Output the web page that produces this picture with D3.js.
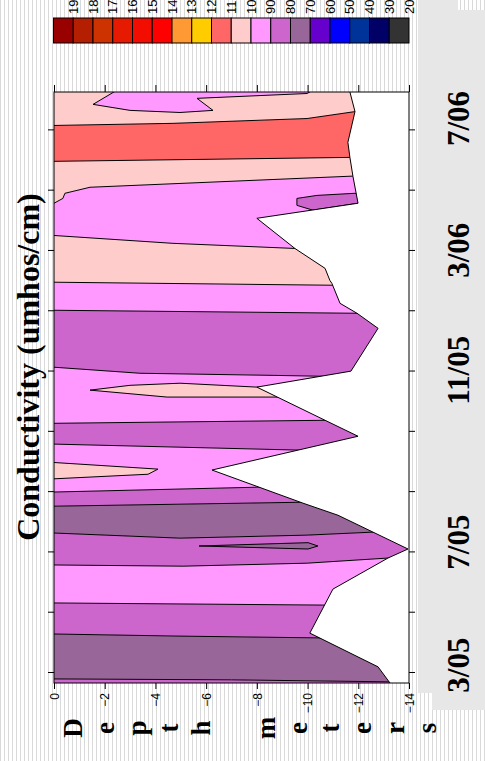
<!DOCTYPE html>
<html><head><meta charset="utf-8">
<script src="https://cdn.jsdelivr.net/npm/d3@7"></script>
<style>body{margin:0;background:#fff}svg{display:block}</style>
</head><body><svg id="c" width="485" height="761"></svg>
<script>
// ---------------- data ----------------
const legendLevels = [1900,1800,1700,1600,1500,1400,1300,1200,1100,1000,900,800,700,600,500,400,300,200];
const legendColors = ["#990000","#b31f00","#cc3300","#e61a00","#f20d00","#ff0000","#ff9933","#ffcc00","#ff6666","#ffcccc","#ff99ff","#cc66cc","#996699","#6600cc","#0000ff","#003399","#000066","#333333"];
const depthTicks = [0,-2,-4,-6,-8,-10,-12,-14];
const monthTicks = [2,4,6,8,10,12,14,16,18,20];           // months since Jan 2005
const dateLabels = ["3/05","7/05","11/05","3/06","7/06"];
const dateLabelMonths = [2.23,6.31,12.01,15.99,20.36];
const timeDomain = [1.635,21.24];
const depthDomain = [0,-14];
// deepest sampled depth along time  [depth, month]
const maxDepth = [[-11.67,21.24],[-11.87,20.59],[-11.59,19.57],[-11.67,19.07],[-11.79,18.44],[-11.99,17.55],[-8.00,17.05],[-9.50,16.05],[-10.69,15.39],[-10.88,14.99],[-10.96,14.89],[-11.28,14.23],[-11.95,13.90],[-12.78,13.40],[-11.71,11.98],[-8.00,11.45],[-10.69,10.35],[-11.99,9.82],[-6.23,8.70],[-9.82,7.60],[-11.20,7.20],[-13.96,6.08],[-13.17,5.78],[-11.00,4.75],[-10.09,3.29],[-12.78,2.17],[-13.25,1.635]];
// contour boundaries between bands, bottom to top  [depth, month]
const boundaries = [
  [[0,1.77],[-7,1.74],[-14.5,1.66]],
  [[0,3.26],[-4.97,3.19],[-10.57,3.13],[-14.5,3.09]],
  [[0,4.29],[-10.6,4.22],[-14.5,4.20]],
  [[0,5.55],[-5.09,5.51],[-9.98,5.61],[-13.17,5.78],[-14.5,5.84]],
  [[0,6.61],[-4.97,6.44],[-9.98,6.54],[-12.58,6.64],[-14.5,6.71]],
  [[0,7.50],[-9.70,7.63],[-14.5,7.70]],
  [[0,7.97],[-8.0,8.13],[-14.5,8.40]],
  [[0,9.56],[-9.70,9.36],[-14.5,9.26]],
  [[0,10.25],[-10.69,10.35],[-14.5,10.39]],
  [[0,12.11],[-3.39,11.91],[-8.64,11.84],[-10.61,11.81],[-14.5,11.78]],
  [[0,14.00],[-11.95,13.90],[-14.5,13.86]],
  [[0,14.93],[-10.96,14.83],[-14.5,14.79]],
  [[0,16.48],[-4.69,16.22],[-9.50,16.05],[-14.5,15.92]],
  [[0,17.55],[-0.35,17.71],[-0.43,17.88],[-1.42,18.08],[-11.79,18.45],[-14.5,18.58]],
  [[0,18.94],[-11.67,19.07],[-14.5,19.10]],
  [[0,20.13],[-4.69,20.20],[-9.98,20.36],[-11.87,20.59],[-14.5,20.83]]
];
// conductivity level of each band, bottom to top
const bandLevels = [800,700,800,900,800,700,800,900,800,900,800,900,1000,900,1000,1100,1000];
const islandLevels = [700,1000,1000,800,900];
const islandShapes = [
  [[-5.72,6.18],[-10.02,6.29],[-10.41,6.18],[-10.02,6.08]],
  [[0.2,8.96],[-4.10,8.73],[-3.71,8.56],[0.2,8.40]],
  [[-1.42,11.35],[-3.00,11.51],[-4.97,11.58],[-8.00,11.45],[-9.0,11.45],[-8.85,11.12],[-4.46,11.12]],
  [[-9.58,17.71],[-10.37,17.81],[-11.87,17.88],[-12.3,17.7],[-11.99,17.55],[-10.21,17.32],[-9.58,17.48]],
  [[-2.48,21.3],[-1.54,20.83],[-3.00,20.63],[-4.97,20.56],[-6.27,20.63],[-5.64,21.03],[-9.98,21.19],[-10.21,21.3]]
];

// ---------------- drawing ----------------
const W=485,H=761;
const plot={left:54,right:409,top:92,bottom:683};
const x=d3.scaleLinear().domain(depthDomain).range([plot.left,plot.right]);
const y=d3.scaleLinear().domain(timeDomain).range([plot.bottom,plot.top]);
const color=l=>legendColors[legendLevels.indexOf(l)];
const line=d3.line().x(p=>x(p[0])).y(p=>y(p[1]));
const sans="'Liberation Sans', Arial, sans-serif";
const serif="'Liberation Serif', 'Times New Roman', serif";

const svg=d3.select("#c");
const defs=svg.append("defs");
const pat=defs.append("pattern").attr("id","stripes").attr("patternUnits","userSpaceOnUse").attr("width",4).attr("height",10);
pat.append("rect").attr("width",4).attr("height",10).attr("fill","#fff");
pat.append("rect").attr("width",1).attr("height",10).attr("fill","#d9d9d9");
svg.append("rect").attr("width",W).attr("height",H).attr("fill","url(#stripes)");

// gray panel at right
svg.append("path").attr("d","M418,0H458V10H485V710H432V693H418Z").attr("fill","#e7e7e7");

// legend
const lx=d3.scaleBand().domain(legendLevels).range([53.5,409]);
svg.append("g").selectAll("rect").data(legendLevels).join("rect")
  .attr("x",d=>lx(d)).attr("y",18).attr("width",lx.bandwidth()).attr("height",25)
  .attr("fill",d=>color(d)).attr("stroke","#000").attr("stroke-width",1);
svg.append("g").selectAll("text").data(legendLevels).join("text")
  .attr("transform",d=>`translate(${lx(d)+lx.bandwidth()},14) rotate(-90)`)
  .attr("dy","0.35em").style("font",`13px ${sans}`).attr("fill","#000").text(d=>d);

// plot
svg.append("rect").attr("x",plot.left).attr("y",plot.top).attr("width",plot.right-plot.left).attr("height",plot.bottom-plot.top).attr("fill","#fff");
const clipPts=[[0,timeDomain[0]],...maxDepth.slice().reverse(),[0,timeDomain[1]]];
defs.append("clipPath").attr("id","dataClip").append("path").attr("d",line(clipPts)+"Z");
const g=svg.append("g").attr("clip-path","url(#dataClip)");
const bandPolys=bandLevels.map((lev,i)=>{
  const lower=i===0?[[0.5,timeDomain[0]-0.2],[-14.5,timeDomain[0]-0.2]]:boundaries[i-1];
  const upper=i===bandLevels.length-1?[[0.5,timeDomain[1]+0.2],[-14.5,timeDomain[1]+0.2]]:boundaries[i];
  return {lev,pts:[...lower,...upper.slice().reverse()]};
});
g.selectAll("path.band").data(bandPolys).join("path").attr("class","band")
  .attr("d",d=>line(d.pts)+"Z").attr("fill",d=>color(d.lev)).attr("stroke","none");
g.selectAll("path.isl").data(islandShapes).join("path").attr("class","isl")
  .attr("d",d=>line(d)+"Z").attr("fill",(d,i)=>color(islandLevels[i])).attr("stroke","#000").attr("stroke-width",1);
g.selectAll("path.bd").data(boundaries).join("path").attr("class","bd")
  .attr("d",d=>line(d)).attr("fill","none").attr("stroke","#000").attr("stroke-width",1);
svg.append("path").attr("d",line(maxDepth)).attr("fill","none").attr("stroke","#000").attr("stroke-width",1);

// axes
const axB=svg.append("g").attr("transform",`translate(0,${plot.bottom})`)
  .call(d3.axisBottom(x).tickValues(depthTicks).tickSize(6).tickSizeOuter(0));
axB.select(".domain").remove();
axB.selectAll("text").attr("x",-10).attr("y",0).attr("dy","0.35em").attr("transform","rotate(-90)")
  .attr("text-anchor","end").style("font",`12px ${sans}`);
const axT=svg.append("g").attr("transform",`translate(0,${plot.top})`)
  .call(d3.axisTop(x).tickValues(depthTicks).tickSize(7).tickFormat(""));
axT.select(".domain").remove();
const axL=svg.append("g").attr("transform",`translate(${plot.left},0)`)
  .call(d3.axisLeft(y).tickValues(monthTicks).tickSize(6).tickFormat(""));
axL.select(".domain").remove();
const axR=svg.append("g").attr("transform",`translate(${plot.right},0)`)
  .call(d3.axisRight(y).tickValues(monthTicks).tickSize(6).tickFormat(""));
axR.select(".domain").remove();
svg.selectAll(".tick line").attr("stroke","#000");
svg.append("rect").attr("x",plot.left).attr("y",plot.top).attr("width",plot.right-plot.left).attr("height",plot.bottom-plot.top)
  .attr("fill","none").attr("stroke","#000").attr("stroke-width",1);

// date labels
svg.append("g").selectAll("text").data(dateLabels).join("text")
  .attr("transform",(d,i)=>`translate(458,${y(dateLabelMonths[i])}) rotate(-90)`)
  .attr("text-anchor","middle").attr("dy","0.35em")
  .style("font",`bold 31px ${serif}`).attr("fill","#000").text(d=>d);

// title
svg.append("text").attr("transform","translate(28,367) rotate(-90)").attr("text-anchor","middle").attr("dy","0.35em")
  .style("font",`bold 32px ${serif}`).attr("fill","#000").text("Conductivity (umhos/cm)");

// depth axis title (stacked letters)
const depthTitle="Depth meters".split("");
svg.append("g").selectAll("text").data(depthTitle).join("text")
  .attr("transform",(d,i)=>`translate(${81.5+32.2*i},728) rotate(-90)`)
  .attr("text-anchor","middle").style("font",`bold 27px ${serif}`).attr("fill","#000").text(d=>d);
</script></body></html>
